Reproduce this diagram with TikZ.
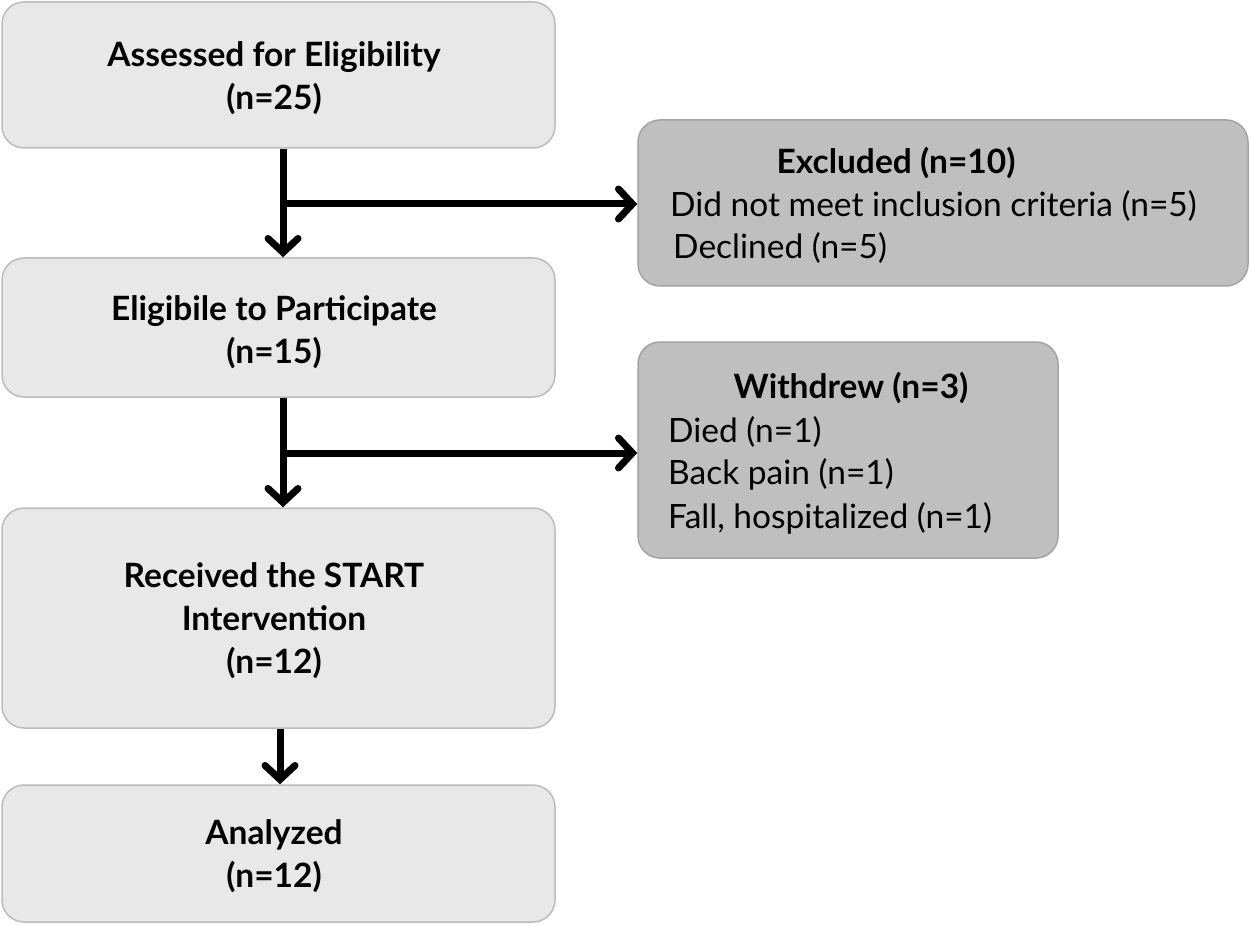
\documentclass[tikz,border=0pt]{standalone}
\usepackage{fontspec}
\setmainfont{Lato}
\usetikzlibrary{arrows.meta}
\definecolor{lightfill}{HTML}{E8E8E8}
\definecolor{lightline}{HTML}{BBBBBB}
\definecolor{darkfill}{HTML}{BFBFBF}
\definecolor{darkline}{HTML}{A3A3A3}
\tikzset{
  lightbox/.style={draw=lightline, fill=lightfill, line width=1.5pt, rounded corners=22pt, inner sep=0pt},
  darkbox/.style={draw=darkline, fill=darkfill, line width=1.5pt, rounded corners=22pt, inner sep=0pt},
  boxtext/.style={font=\fontsize{33.5}{43}\selectfont\bfseries, align=center, inner sep=0pt},
  sidetext/.style={font=\fontsize{33.5}{43}\selectfont, inner sep=0pt, anchor=base west},
  arr/.style={line width=7pt, -{Straight Barb[length=14pt, width=30pt, line width=7pt, line cap=round]}}
}
\begin{document}
\begin{tikzpicture}[x=1pt, y=-1pt]
\useasboundingbox (0,0) rectangle (1250,925);
\node[lightbox, minimum width=553pt, minimum height=146pt] (b1) at (278.5,75) {};
\node[lightbox, minimum width=553pt, minimum height=139pt] (b2) at (278.5,327.5) {};
\node[lightbox, minimum width=553pt, minimum height=220pt] (b3) at (278.5,618) {};
\node[lightbox, minimum width=553pt, minimum height=137pt] (b4) at (278.5,853.5) {};
\node[darkbox, minimum width=610pt, minimum height=166pt] (ex) at (943,203) {};
\node[darkbox, minimum width=420pt, minimum height=216pt] (wd) at (848,450) {};

\node[boxtext] (t1) at (274,78) {Assessed for Eligibility\\(n=25)};
\node[boxtext] (t2) at (274,332) {Eligibile to Participate\\(n=15)};
\node[boxtext] (t3) at (274,621) {Received the START\\Intervention\\(n=12)};
\node[boxtext] (t4) at (274,856) {Analyzed\\(n=12)};

\node[boxtext, anchor=base] (ext) at (896,174) {Excluded (n=10)};
\node[sidetext] (ex1) at (670,217) {Did not meet inclusion criteria (n=5)};
\node[sidetext] (ex2) at (673,259) {Declined (n=5)};
\node[boxtext, anchor=base] (wdt) at (851,398) {Withdrew (n=3)};
\node[sidetext] (wd1) at (668,442) {Died (n=1)};
\node[sidetext] (wd2) at (668,484) {Back pain (n=1)};
\node[sidetext] (wd3) at (668,528) {Fall, hospitalized (n=1)};

\coordinate (j1) at (283,204);
\coordinate (j2) at (283,453);
\coordinate (j3) at (280,760);
\draw[arr] (b1.south -| j1) -- (b2.north -| j1);
\draw[arr] (j1) -- (ex.west |- j1);
\draw[arr] (b2.south -| j2) -- (b3.north -| j2);
\draw[arr] (j2) -- (wd.west |- j2);
\draw[arr] (b3.south -| j3) -- (b4.north -| j3);
\end{tikzpicture}
\end{document}
